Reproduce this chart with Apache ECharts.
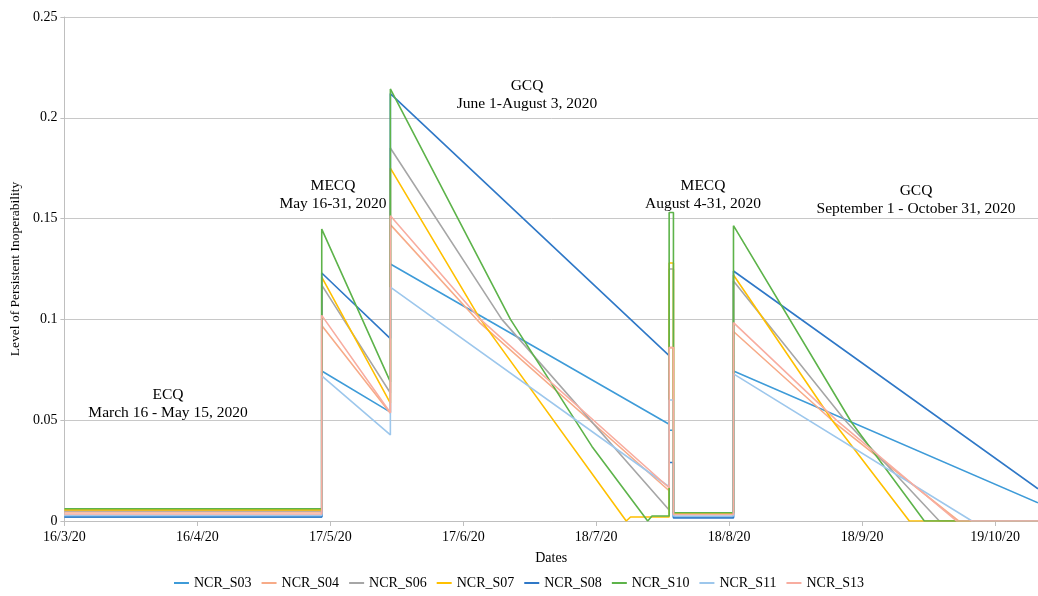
<!DOCTYPE html>
<html>
<head>
<meta charset="utf-8">
<script src="https://cdn.jsdelivr.net/npm/echarts@6/dist/echarts.min.js"></script>
<style>
  html, body { margin: 0; padding: 0; background: #fff; }
  #chart { width: 1038px; height: 596px; }
</style>
</head>
<body>
<div id="chart"></div>
<script>
// x = days since 16 March 2020, y = level of persistent inoperability
const tickLabels = ['16/3/20', '16/4/20', '17/5/20', '17/6/20', '18/7/20', '18/8/20', '18/9/20', '19/10/20'];
const seriesNames = ['NCR_S03', 'NCR_S04', 'NCR_S06', 'NCR_S07', 'NCR_S08', 'NCR_S10', 'NCR_S11', 'NCR_S13'];
const seriesColors = ['#3e9bd8', '#f7ab88', '#a6a6a6', '#ffc000', '#2f78c7', '#5db34a', '#9dc7ec', '#f8ada0'];

const S03 = [[0, 0.0020], [60, 0.0020], [60, 0.0744], [76, 0.0540], [76, 0.1275], [141, 0.0480], [141, 0.045], [142, 0.045], [142, 0.0020], [156, 0.0020], [156, 0.0744], [227, 0.0090]];
const S04 = [[0, 0.0045], [60, 0.0045], [60, 0.097], [76, 0.0535], [76, 0.147], [97, 0.098], [141, 0.015], [141, 0.086], [142, 0.086], [142, 0.0034], [156, 0.0034], [156, 0.094], [180, 0.048], [208.5, 0], [227, 0]];
const S06 = [[0, 0.0050], [60, 0.0050], [60, 0.117], [76, 0.0635], [76, 0.185], [102, 0.1], [141, 0.0055], [141, 0.125], [142, 0.125], [142, 0.0036], [156, 0.0036], [156, 0.119], [182, 0.05], [204, 0], [227, 0]];
const S07 = [[0, 0.0055], [60, 0.0055], [60, 0.121], [76, 0.0585], [76, 0.175], [97, 0.1], [131, 0], [132, 0.002], [141, 0.002], [141, 0.128], [142, 0.128], [142, 0.0038], [156, 0.0038], [156, 0.122], [179, 0.05], [197, 0], [227, 0]];
const S08 = [[0, 0.0020], [60, 0.0020], [60, 0.123], [76, 0.0905], [76, 0.212], [141, 0.082], [141, 0.029], [142, 0.029], [142, 0.0015], [156, 0.0015], [156, 0.124], [227, 0.016]];
const S10 = [[0, 0.0061], [60, 0.0061], [60, 0.1448], [76, 0.069], [76, 0.2143], [104, 0.1], [123, 0.037], [136, 0], [137, 0.0025], [141, 0.0025], [141, 0.153], [142, 0.153], [142, 0.0041], [156, 0.0041], [156, 0.1465], [183.5, 0.049], [200.5, 0], [227, 0]];
const S11 = [[0, 0.0028], [60, 0.0028], [60, 0.072], [76, 0.0427], [76, 0.116], [141, 0.017], [141, 0.06], [142, 0.06], [142, 0.0025], [156, 0.0025], [156, 0.073], [211.6, 0], [227, 0]];
const S13 = [[0, 0.0035], [60, 0.0035], [60, 0.102], [76, 0.0537], [76, 0.1514], [97, 0.1], [141, 0.0165], [141, 0.086], [142, 0.086], [142, 0.0032], [156, 0.0032], [156, 0.0984], [180, 0.05], [208, 0], [227, 0]];
const seriesData = [S03, S04, S06, S07, S08, S10, S11, S13];

const noteTitles = ['ECQ', 'MECQ', 'GCQ', 'MECQ', 'GCQ'];
const noteRanges = ['March 16 - May 15, 2020', 'May 16-31, 2020', 'June 1-August 3, 2020', 'August 4-31, 2020', 'September 1 - October 31, 2020'];

const serif = 'Liberation Serif, Times New Roman, serif';
const notePos = [[168, 395], [333, 186], [527, 86], [703, 186], [916, 191]];

const graphics = [];
noteTitles.forEach(function (t, i) {
  graphics.push({
    type: 'text', x: notePos[i][0], y: notePos[i][1],
    style: { text: t, fill: '#000', font: '15.5px ' + serif, textAlign: 'center', textVerticalAlign: 'middle' }
  });
  graphics.push({
    type: 'text', x: notePos[i][0], y: notePos[i][1] + 18,
    style: { text: noteRanges[i], fill: '#000', font: '15.5px ' + serif, textAlign: 'center', textVerticalAlign: 'middle' }
  });
});

const chart = echarts.init(document.getElementById('chart'));
chart.setOption({
  animation: false,
  textStyle: { fontFamily: serif },
  grid: { left: 64, right: 0, top: 17, bottom: 75, containLabel: false },
  legend: {
    top: 576,
    left: 'center',
    padding: 0,
    icon: 'rect',
    itemWidth: 15,
    itemHeight: 2,
    itemGap: 10,
    data: seriesNames,
    textStyle: { fontFamily: serif, fontSize: 14, color: '#000' }
  },
  xAxis: {
    type: 'value',
    min: 0,
    max: 227,
    interval: 31,
    name: 'Dates',
    nameLocation: 'middle',
    nameGap: 30,
    nameTextStyle: { fontFamily: serif, fontSize: 14, color: '#000' },
    axisLine: { lineStyle: { color: '#bfbfbf' } },
    axisTick: { show: true, length: 5, lineStyle: { color: '#bfbfbf' } },
    splitLine: { show: false },
    axisLabel: {
      fontFamily: serif, fontSize: 14, color: '#000', margin: 9,
      showMaxLabel: false,
      formatter: function (v) { return tickLabels[Math.round(v / 31)] || ''; }
    }
  },
  yAxis: {
    type: 'value',
    min: 0,
    max: 0.25,
    interval: 0.05,
    name: 'Level of Persistent Inoperability',
    nameLocation: 'middle',
    nameGap: 41,
    nameTextStyle: { fontFamily: serif, fontSize: 13.5, color: '#000' },
    axisLine: { show: true, lineStyle: { color: '#bfbfbf' } },
    axisTick: { show: true, length: 4, lineStyle: { color: '#bfbfbf' } },
    splitLine: { lineStyle: { color: '#c8c8c8' } },
    axisLabel: { fontFamily: serif, fontSize: 14, color: '#000', margin: 7 }
  },
  series: seriesNames.map(function (n, i) {
    return {
      name: n,
      type: 'line',
      data: seriesData[i],
      symbol: 'none',
      color: seriesColors[i],
      lineStyle: { width: 1.6, color: seriesColors[i] }
    };
  }),
  graphic: graphics
});
</script>
</body>
</html>
